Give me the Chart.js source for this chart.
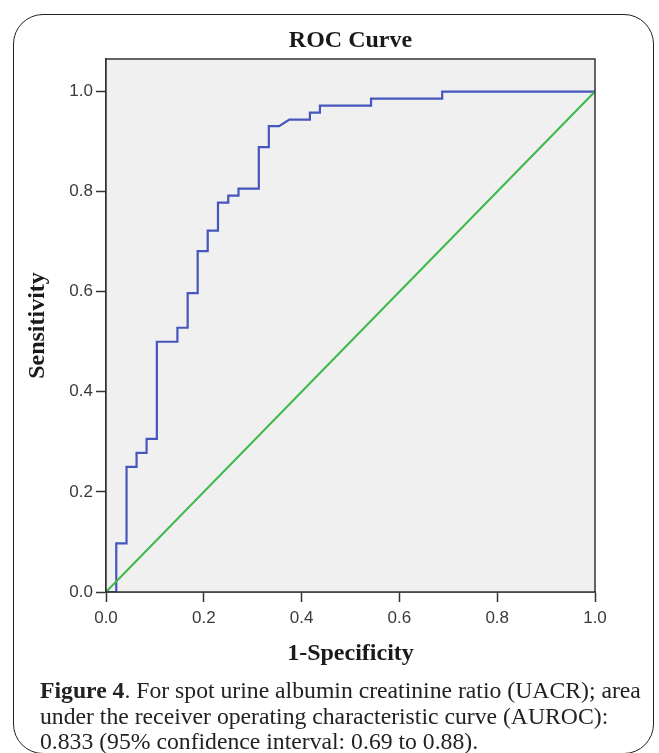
<!DOCTYPE html>
<html>
<head>
<meta charset="utf-8">
<script src="https://cdn.jsdelivr.net/npm/chart.js@4/dist/chart.umd.min.js"></script>
<style>
  html, body { margin: 0; padding: 0; background: #ffffff; }
  #wrap { position: relative; width: 659px; height: 753px; overflow: hidden; background: #fff; }
  #frame { position: absolute; left: 13px; top: 14px; width: 641px; height: 740px; border: 1.5px solid #222; border-radius: 30px; box-sizing: border-box; }
  #c { position: absolute; left: 0; top: 0; z-index: 1; }
  #caption { position: absolute; left: 40px; top: 678px; font-family: "Liberation Serif", "DejaVu Serif", serif; font-size: 23.7px; line-height: 25.5px; color: #222; white-space: nowrap; z-index: 2; }
</style>
</head>
<body>
<div id="wrap">
  <div id="frame"></div>
  <canvas id="c" width="659" height="753"></canvas>
  <div id="caption"><b>Figure 4</b>. For spot urine albumin creatinine ratio (UACR); area<br>under the receiver operating characteristic curve (AUROC):<br>0.833 (95% confidence interval: 0.69 to 0.88).</div>
</div>
<script>
// ROC curve points (1-Specificity, Sensitivity)
const rocFpr = [0, 0.021, 0.021, 0.042, 0.042, 0.0625, 0.0625, 0.083, 0.083, 0.104, 0.104, 0.146, 0.146, 0.167, 0.167, 0.1875, 0.1875, 0.208, 0.208, 0.229, 0.229, 0.25, 0.25, 0.271, 0.271, 0.3125, 0.3125, 0.333, 0.333, 0.354, 0.375, 0.417, 0.417, 0.4375, 0.4375, 0.542, 0.542, 0.6875, 0.6875, 1.0];
const rocTpr = [0, 0, 0.097, 0.097, 0.25, 0.25, 0.278, 0.278, 0.306, 0.306, 0.5, 0.5, 0.528, 0.528, 0.597, 0.597, 0.681, 0.681, 0.722, 0.722, 0.778, 0.778, 0.792, 0.792, 0.806, 0.806, 0.889, 0.889, 0.931, 0.931, 0.944, 0.944, 0.958, 0.958, 0.972, 0.972, 0.986, 0.986, 1.0, 1.0];
// Reference (chance) line
const refX = [0, 1];
const refY = [0, 1];
// Tick values
const xTicks = [0, 0.2, 0.4, 0.6, 0.8, 1.0];
const yTicks = [0, 0.2, 0.4, 0.6, 0.8, 1.0];

const rocData = rocFpr.map((x, i) => ({ x: x, y: rocTpr[i] }));
const refData = refX.map((x, i) => ({ x: x, y: refY[i] }));

const plotBg = {
  id: 'plotBg',
  beforeDatasetsDraw(chart) {
    const { ctx, chartArea: a } = chart;
    ctx.save();
    ctx.fillStyle = '#f0f0f0';
    ctx.fillRect(a.left, a.top, a.right - a.left, a.bottom - a.top);
    ctx.restore();
  },
  afterDraw(chart) {
    const { ctx, chartArea: a } = chart;
    ctx.save();
    ctx.strokeStyle = '#333';
    ctx.lineWidth = 1.5;
    ctx.strokeRect(a.left, a.top, a.right - a.left, a.bottom - a.top);
    ctx.restore();
  }
};

const tickFont = { family: '"Liberation Sans", Arial, sans-serif', size: 17 };
const titleFont = { family: '"Liberation Serif", "DejaVu Serif", serif', size: 24, weight: 'bold' };

new Chart(document.getElementById('c'), {
  type: 'scatter',
  data: {
    datasets: [
      { label: 'Reference', data: refData, showLine: true, borderColor: '#3cb94a', borderWidth: 2, pointRadius: 0, tension: 0, fill: false },
      { label: 'UACR', data: rocData, showLine: true, borderColor: '#4656bd', borderWidth: 2.2, pointRadius: 0, tension: 0, fill: false }
    ]
  },
  options: {
    responsive: false,
    animation: false,
    events: [],
    layout: { padding: { left: 0, right: 64, top: 0, bottom: 81 } },
    plugins: {
      legend: { display: false },
      tooltip: { enabled: false },
      title: { display: false }
    },
    scales: {
      top: {
        type: 'linear',
        position: 'top',
        min: 0,
        max: 1,
        afterFit: (s) => { s.height = 59; },
        ticks: { display: false },
        grid: { display: false },
        border: { display: false },
        title: { display: true, text: 'ROC Curve', font: titleFont, color: '#1a1a1a', padding: { top: 26, bottom: 0 } }
      },
      x: {
        type: 'linear',
        min: 0,
        max: 1,
        afterBuildTicks: (s) => { s.ticks = xTicks.map(v => ({ value: v })); },
        afterFit: (s) => { s.height = 80; },
        ticks: { font: tickFont, color: '#3a3a3a', padding: 6, maxRotation: 0, callback: (v) => Number(v).toFixed(1) },
        grid: { drawOnChartArea: false, drawTicks: true, tickLength: 10, tickColor: '#333', tickWidth: 1.5 },
        border: { display: true, color: '#333', width: 1.5 },
        title: { display: true, text: '1-Specificity', font: titleFont, color: '#1a1a1a', padding: { top: 0, bottom: 4 } }
      },
      y: {
        type: 'linear',
        min: 0,
        max: 1.065,
        afterBuildTicks: (s) => { s.ticks = yTicks.map(v => ({ value: v })); },
        afterFit: (s) => { s.width = 106; },
        ticks: { font: tickFont, color: '#3a3a3a', padding: 3, callback: (v) => Number(v).toFixed(1) },
        grid: { drawOnChartArea: false, drawTicks: true, tickLength: 10, tickColor: '#333', tickWidth: 1.5 },
        border: { display: true, color: '#333', width: 1.5 },
        title: { display: true, text: 'Sensitivity', font: titleFont, color: '#1a1a1a', padding: { top: 23, bottom: 0 } }
      }
    }
  },
  plugins: [plotBg]
});
</script>
</body>
</html>
